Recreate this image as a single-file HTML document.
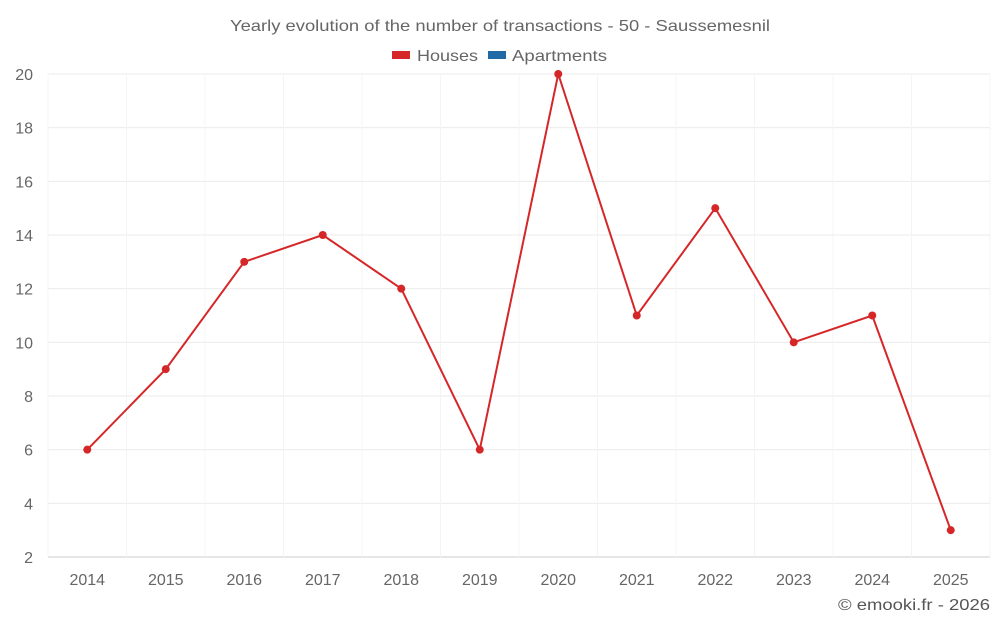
<!DOCTYPE html>
<html><head><meta charset="utf-8"><style>
body{margin:0;background:#fff;font-family:"Liberation Sans",sans-serif}
svg text{font-family:"Liberation Sans",sans-serif}
</style></head><body>
<svg id="c" width="1000" height="625">
<text x="230" y="31" textLength="540" lengthAdjust="spacingAndGlyphs" font-size="16" fill="#666">Yearly evolution of the number of transactions - 50 - Saussemesnil</text>
<g>
<rect x="392" y="51" width="18" height="8" fill="#d62728"/>
<text x="417" y="61" textLength="61" lengthAdjust="spacingAndGlyphs" font-size="16" fill="#666">Houses</text>
<rect x="488" y="51" width="18" height="8" fill="#1f6aa5"/>
<text x="512" y="61" textLength="95" lengthAdjust="spacingAndGlyphs" font-size="16" fill="#666">Apartments</text>
</g>
<g id="grid"></g><g id="axes"></g><g id="series"></g>
<text x="838" y="610" textLength="152" lengthAdjust="spacingAndGlyphs" font-size="16" fill="#555">© emooki.fr - 2026</text>
</svg>
<script>
const categories=["2014","2015","2016","2017","2018","2019","2020","2021","2022","2023","2024","2025"];
const houses=[6,9,13,14,12,6,20,11,15,10,11,3];
const yTicks=[2,4,6,8,10,12,14,16,18,20];
const L=48,R=990,T=74,B=557,yMin=2,yMax=20;
const NS="http://www.w3.org/2000/svg";
const bw=(R-L)/categories.length;
const xs=i=>L+bw*(i+0.5);
const ys=v=>B-(v-yMin)/(yMax-yMin)*(B-T);
function mk(t,a,p){const e=document.createElementNS(NS,t);for(const k in a)e.setAttribute(k,a[k]);p.appendChild(e);return e;}
const g=document.getElementById('grid'),ax=document.getElementById('axes'),s=document.getElementById('series');
yTicks.forEach(v=>{
const l=mk('line',{x1:L,x2:R,y1:ys(v),y2:ys(v),stroke:v===yMin?'#ccc':'#ebebeb'},g);


const t=mk('text',{x:33,y:ys(v)+6,'text-anchor':'end','font-size':16,fill:'#666'},ax);t.textContent=v;


});
for(let i=0;i<=categories.length;i++){
const l=mk('line',{x1:L+bw*i,x2:L+bw*i,y1:T,y2:B,stroke:'#f4f4f4'},g);


}
categories.forEach((c,i)=>{
const t=mk('text',{x:xs(i),y:585,'text-anchor':'middle','font-size':16,fill:'#666'},ax);t.textContent=c;


});
const pl=mk('polyline',{points:houses.map((v,i)=>xs(i)+','+ys(v)).join(' '),fill:'none',stroke:'#d62728','stroke-width':2},s);


houses.forEach((v,i)=>{
const c=mk('circle',{cx:xs(i),cy:ys(v),r:4,fill:'#d62728'},s);


});
</script>
</body></html>
